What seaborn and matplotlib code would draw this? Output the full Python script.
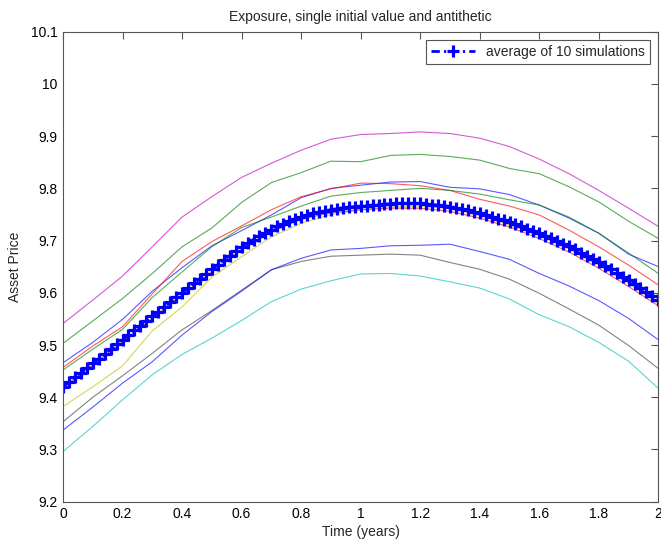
import numpy as np
import pandas as pd
import matplotlib
matplotlib.use("Agg")
import matplotlib.pyplot as plt
import seaborn as sns

# time grid of the 10 simulated paths (read every 0.1 year)
t_sim = [0.0, 0.1, 0.2, 0.3, 0.4, 0.5, 0.6, 0.7, 0.8, 0.9, 1.0,
         1.1, 1.2, 1.3, 1.4, 1.5, 1.6, 1.7, 1.8, 1.9, 2.0]

sim_blue1 = [9.466, 9.505, 9.549, 9.603, 9.648, 9.690, 9.719, 9.749, 9.782, 9.800, 9.806,
             9.812, 9.813, 9.802, 9.799, 9.788, 9.768, 9.743, 9.714, 9.674, 9.650]
sim_green1 = [9.503, 9.546, 9.589, 9.637, 9.688, 9.724, 9.773, 9.811, 9.830, 9.852, 9.851,
              9.863, 9.865, 9.861, 9.854, 9.838, 9.828, 9.803, 9.774, 9.737, 9.704]
sim_red1 = [9.457, 9.498, 9.535, 9.598, 9.660, 9.698, 9.728, 9.759, 9.784, 9.799, 9.810,
            9.809, 9.805, 9.796, 9.779, 9.766, 9.749, 9.720, 9.688, 9.653, 9.615]
sim_cyan = [9.296, 9.344, 9.395, 9.443, 9.482, 9.513, 9.547, 9.583, 9.607, 9.623, 9.636,
            9.637, 9.632, 9.621, 9.609, 9.588, 9.558, 9.535, 9.505, 9.469, 9.417]
sim_magenta = [9.541, 9.586, 9.632, 9.688, 9.745, 9.784, 9.821, 9.848, 9.873, 9.894, 9.903,
               9.905, 9.908, 9.905, 9.896, 9.880, 9.856, 9.828, 9.796, 9.762, 9.727]
sim_yellow = [9.382, 9.420, 9.460, 9.527, 9.573, 9.630, 9.669, 9.707, 9.733, 9.750, 9.759,
              9.764, 9.766, 9.762, 9.748, 9.730, 9.709, 9.684, 9.652, 9.618, 9.580]
sim_black = [9.353, 9.400, 9.441, 9.484, 9.529, 9.566, 9.605, 9.644, 9.660, 9.670, 9.672,
             9.674, 9.672, 9.658, 9.645, 9.626, 9.599, 9.569, 9.538, 9.499, 9.455]
sim_blue2 = [9.337, 9.381, 9.427, 9.468, 9.519, 9.564, 9.603, 9.644, 9.666, 9.682, 9.685,
             9.690, 9.691, 9.693, 9.679, 9.664, 9.637, 9.613, 9.585, 9.551, 9.510]
sim_green2 = [9.452, 9.492, 9.530, 9.591, 9.640, 9.688, 9.725, 9.745, 9.766, 9.785, 9.792,
              9.796, 9.800, 9.796, 9.789, 9.778, 9.768, 9.745, 9.714, 9.676, 9.637]
sim_red2 = [9.418, 9.462, 9.506, 9.551, 9.596, 9.640, 9.683, 9.716, 9.741, 9.753, 9.759,
            9.762, 9.762, 9.756, 9.743, 9.726, 9.704, 9.678, 9.647, 9.612, 9.575]

# average path, one value every 0.02 year (101 points)
avg_price = [9.420, 9.429, 9.438, 9.447, 9.456, 9.465, 9.474, 9.483, 9.492, 9.501,
             9.510, 9.519, 9.528, 9.537, 9.546, 9.555, 9.564, 9.573, 9.582, 9.591,
             9.600, 9.609, 9.618, 9.627, 9.636, 9.645, 9.654, 9.663, 9.671, 9.680,
             9.688, 9.695, 9.702, 9.709, 9.715, 9.721, 9.727, 9.732, 9.737, 9.742,
             9.746, 9.749, 9.752, 9.755, 9.757, 9.759, 9.761, 9.763, 9.764, 9.765,
             9.766, 9.767, 9.768, 9.769, 9.770, 9.770, 9.771, 9.771, 9.771, 9.771,
             9.771, 9.770, 9.769, 9.768, 9.767, 9.765, 9.763, 9.760, 9.758, 9.755,
             9.752, 9.749, 9.746, 9.742, 9.739, 9.735, 9.731, 9.727, 9.723, 9.719,
             9.714, 9.709, 9.704, 9.699, 9.694, 9.689, 9.683, 9.677, 9.671, 9.665,
             9.658, 9.651, 9.645, 9.638, 9.631, 9.624, 9.617, 9.609, 9.602, 9.594,
             9.586]
t_avg = np.linspace(0, 2, len(avg_price))

# matlab-ish colour order b g r c m y k b g r
sims = [sim_blue1, sim_green1, sim_red1, sim_cyan, sim_magenta,
        sim_yellow, sim_black, sim_blue2, sim_green2, sim_red2]
colors = ['#0000ff', '#008000', '#ff0000', '#00bfbf', '#bf00bf',
          '#bfbf00', '#404040', '#0000ff', '#008000', '#ff0000']

sns.set_style("white")
plt.rcParams['font.family'] = ['Liberation Sans', 'DejaVu Sans']

fig = plt.figure(figsize=(6.61, 5.44), dpi=100)
ax = fig.add_axes([0.0953, 0.0778, 0.9007, 0.8640])

for vals, c in zip(sims, colors):
    df = pd.DataFrame({'t': t_sim, 'price': vals})
    sns.lineplot(data=df, x='t', y='price', color=c, linewidth=0.8, alpha=0.65, ax=ax)

# mean path: dash-dot with thick plus markers
df_avg = pd.DataFrame({'t': t_avg, 'price': avg_price})
sns.lineplot(data=df_avg, x='t', y='price', color='#0000ff', linewidth=2,
             linestyle=(0, (3, 1.5, 0.8, 1.5)), marker='+', markersize=8, markeredgewidth=2.3,
             markeredgecolor='#0000ff', label='average of 10 simulations', ax=ax)

ax.set_xlim(0, 2)
ax.set_ylim(9.2, 10.1)
ax.set_xticks(np.arange(0, 2.01, 0.2))
ax.set_xticklabels(['0', '0.2', '0.4', '0.6', '0.8', '1', '1.2', '1.4', '1.6', '1.8', '2'])
ax.set_yticks(np.arange(9.2, 10.11, 0.1))
ax.set_yticklabels(['9.2', '9.3', '9.4', '9.5', '9.6', '9.7', '9.8', '9.9', '10', '10.1'])
ax.tick_params(direction='in', length=5, width=0.8, color='#555555',
               top=True, right=True, labelsize=10, labelcolor='black', pad=4)
for s in ax.spines.values():
    s.set_color('#555555')
    s.set_linewidth(0.8)

ax.set_title('Exposure, single initial value and antithetic', fontsize=10, pad=8)
ax.set_xlabel('Time (years)', fontsize=10, labelpad=3)
ax.set_ylabel('Asset Price', fontsize=10, labelpad=6)

leg = ax.legend(loc='upper right', fontsize=10, fancybox=False, framealpha=1,
                edgecolor='#555555', handlelength=3.2, borderaxespad=0.6,
                borderpad=0.35, numpoints=1)
leg.get_frame().set_linewidth(0.8)

fig.savefig('out.png', dpi=100)
